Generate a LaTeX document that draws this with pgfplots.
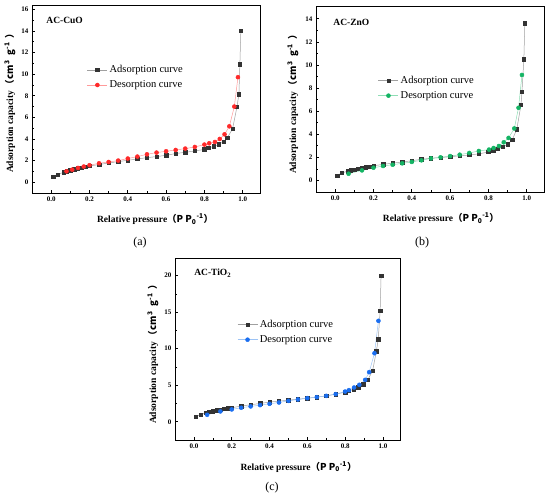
\documentclass[border=0pt]{standalone}
\usepackage{pgfplots}
\pgfplotsset{compat=1.18}
\usepackage{fontspec}
\setmainfont{Liberation Serif}
\newfontfamily\cjk{Noto Sans CJK SC}
\definecolor{sq}{HTML}{333333}
\definecolor{sqline}{HTML}{A0A0A0}
\definecolor{redm}{HTML}{FF2A2A}
\definecolor{redl}{HTML}{FF9A9A}
\definecolor{grnm}{HTML}{14B464}
\definecolor{grnl}{HTML}{8FDDB5}
\definecolor{blum}{HTML}{1A6EF0}
\definecolor{blul}{HTML}{9CC3F5}
\pgfplotsset{
  panel/.style={
    scale only axis, anchor=south west,
    xmin=-0.1, xmax=1.09,
    xtick={0,0.2,0.4,0.6,0.8,1.0},
    minor x tick num=1, minor y tick num=1,
    tick align=inside, xtick pos=left, ytick pos=left,
    major tick length=3pt, minor tick length=1.6pt,
    axis line style={line width=0.8pt},
    every tick/.style={black, line width=0.6pt},
    /pgf/number format/assume math mode=true,
    ticklabel style={font=\bfseries\fontsize{7}{8}\selectfont},
    xticklabel style={/pgf/number format/.cd, fixed, fixed zerofill, precision=1},
    label style={font=\bfseries\fontsize{9.5}{11}\selectfont},
    xlabel={Relative pressure\cjk{（}P P\textsubscript{0}\textsuperscript{-1}\cjk{）}},
    ylabel={Adsorption capacity\hspace{1pt}\cjk{（}\hspace{1pt}cm\textsuperscript{3}\hspace{5pt}g\textsuperscript{-1}\hspace{4pt}\cjk{）}},
    legend style={draw=none, fill=none, inner sep=0pt, anchor=west,
      font=\fontsize{10.5}{12}\selectfont, cells={anchor=west}, row sep=2.5pt},
    legend image code/.code={\draw[#1, mark repeat=2, mark phase=2] plot coordinates {(0pt,0pt) (10pt,0pt) (20pt,0pt)};},
  },
  ads/.style={draw=sqline, line width=0.5pt, mark=square*, mark size=1.7pt, mark options={draw=sq, fill=sq, solid}},
  desr/.style={draw=redl, line width=0.5pt, mark=*, mark size=2pt, mark options={draw=redm, fill=redm, solid}},
  desg/.style={draw=grnl, line width=0.5pt, mark=*, mark size=2pt, mark options={draw=grnm, fill=grnm, solid}},
  desb/.style={draw=blul, line width=0.5pt, mark=*, mark size=2pt, mark options={draw=blum, fill=blum, solid}},
}
\begin{document}
\begin{tikzpicture}[x=1pt,y=1pt]
% ---------------- (a) AC-CuO ----------------
\begin{axis}[panel, at={(32pt,307pt)}, width=228pt, height=188pt,
  ymin=-1, ymax=16.4, ytick={0,2,4,6,8,10,12,14,16},
  xlabel style={at={(axis description cs:0.54,0)}, anchor=center, yshift=-26pt},
  ylabel style={at={(axis description cs:0,0.49)}, anchor=center, yshift=22pt},
  legend style={at={(axis description cs:0.241,0.615)}}]
\addplot[ads] coordinates {
(0.01,0.50) (0.035,0.71) (0.066,0.93) (0.08,1.00) (0.10,1.10) (0.12,1.19) (0.14,1.28) (0.16,1.36) (0.18,1.43) (0.20,1.50)
(0.25,1.63) (0.30,1.78) (0.35,1.90) (0.40,2.03) (0.45,2.15) (0.50,2.27) (0.55,2.37) (0.60,2.49) (0.65,2.65) (0.70,2.77)
(0.75,2.89) (0.80,3.04) (0.82,3.16) (0.85,3.32) (0.875,3.50) (0.90,3.75) (0.92,4.12) (0.947,4.95) (0.97,7.00) (0.98,8.15)
(0.985,10.90) (0.99,14.00)};
\addlegendentry{Adsorption curve}
\addplot[desr] coordinates {
(0.975,9.72) (0.956,7.00) (0.93,5.17) (0.905,4.43) (0.88,4.00) (0.855,3.72) (0.825,3.60) (0.80,3.48) (0.75,3.26) (0.70,3.11)
(0.65,2.98) (0.60,2.86) (0.55,2.74) (0.50,2.58) (0.45,2.37) (0.40,2.19) (0.35,2.00) (0.30,1.87) (0.25,1.75) (0.20,1.57)
(0.17,1.45) (0.14,1.32) (0.11,1.16) (0.08,1.01)};
\addlegendentry{Desorption curve}
\node[anchor=west, font=\bfseries\fontsize{9.5}{11}\selectfont] at (axis description cs:0.048,0.917) {AC-CuO};
\end{axis}
% ---------------- (b) AC-ZnO ----------------
\begin{axis}[panel, at={(316pt,308pt)}, width=228pt, height=186pt,
  ymin=-1, ymax=15.1, ytick={0,2,4,6,8,10,12,14},
  xlabel style={at={(axis description cs:0.548,0)}, anchor=center, yshift=-26pt},
  ylabel style={at={(axis description cs:0,0.484)}, anchor=center, yshift=23pt},
  legend style={at={(axis description cs:0.272,0.559)}}]
\addplot[ads] coordinates {
(0.01,0.43) (0.035,0.64) (0.066,0.81) (0.08,0.88) (0.10,0.95) (0.12,1.02) (0.14,1.09) (0.16,1.15) (0.18,1.21) (0.20,1.27)
(0.25,1.39) (0.30,1.50) (0.35,1.59) (0.40,1.71) (0.45,1.83) (0.50,1.92) (0.55,1.98) (0.60,2.05) (0.65,2.13) (0.70,2.20)
(0.75,2.30) (0.80,2.46) (0.825,2.60) (0.85,2.72) (0.875,2.90) (0.90,3.13) (0.925,3.54) (0.948,4.43) (0.97,6.55) (0.975,7.68)
(0.985,10.50) (0.99,13.60)};
\addlegendentry{Adsorption curve}
\addplot[desg] coordinates {
(0.975,9.13) (0.957,6.29) (0.935,4.50) (0.905,3.68) (0.88,3.30) (0.855,2.98) (0.827,2.81) (0.803,2.67) (0.75,2.55) (0.70,2.38)
(0.65,2.23) (0.60,2.11) (0.55,2.00) (0.50,1.91) (0.45,1.74) (0.40,1.60) (0.35,1.48) (0.30,1.36) (0.25,1.25) (0.20,1.10)
(0.14,0.87) (0.07,0.58)};
\addlegendentry{Desorption curve}
\node[anchor=west, font=\bfseries\fontsize{9.5}{11}\selectfont] at (axis description cs:0.061,0.91) {AC-ZnO};
\end{axis}
% ---------------- (c) AC-TiO2 ----------------
\begin{axis}[panel, at={(175pt,60pt)}, width=225pt, height=182pt,
  ymin=-2.5, ymax=22.4, ytick={0,5,10,15,20},
  xlabel style={at={(axis description cs:0.549,0)}, anchor=center, yshift=-26.7pt},
  ylabel style={at={(axis description cs:0,0.484)}, anchor=center, yshift=22pt},
  legend style={at={(axis description cs:0.276,0.593)}}]
\addplot[ads] coordinates {
(0.01,0.68) (0.035,0.95) (0.066,1.25) (0.08,1.35) (0.10,1.45) (0.12,1.57) (0.14,1.66) (0.16,1.75) (0.18,1.83) (0.20,1.91)
(0.25,2.14) (0.30,2.32) (0.35,2.50) (0.40,2.69) (0.45,2.82) (0.50,2.95) (0.55,3.08) (0.60,3.22) (0.65,3.36) (0.70,3.54)
(0.75,3.77) (0.80,4.05) (0.82,4.20) (0.845,4.46) (0.87,4.73) (0.895,5.14) (0.92,5.73) (0.945,6.96) (0.965,9.65) (0.975,11.30)
(0.985,15.20) (0.99,20.00)};
\addlegendentry{Adsorption curve}
\addplot[desb] coordinates {
(0.976,13.80) (0.955,9.37) (0.927,6.78) (0.906,5.73) (0.875,5.05) (0.847,4.68) (0.82,4.32) (0.80,4.13) (0.75,3.77) (0.70,3.54)
(0.65,3.36) (0.60,3.22) (0.55,3.04) (0.50,2.86) (0.45,2.63) (0.40,2.45) (0.35,2.27) (0.30,2.09) (0.25,1.91) (0.20,1.68)
(0.14,1.41) (0.07,0.95)};
\addlegendentry{Desorption curve}
\node[anchor=west, font=\bfseries\fontsize{9.5}{11}\selectfont] at (axis description cs:0.07,0.916) {AC-TiO\textsubscript{2}};
\end{axis}
\node[font=\fontsize{12}{14}\selectfont] at (140pt,257pt) {(a)};
\node[font=\fontsize{12}{14}\selectfont] at (422pt,257pt) {(b)};
\node[font=\fontsize{12}{14}\selectfont] at (272pt,12pt) {(c)};
\pgfresetboundingbox
\useasboundingbox (0pt,0pt) rectangle (550pt,500pt);
\end{tikzpicture}
\end{document}
